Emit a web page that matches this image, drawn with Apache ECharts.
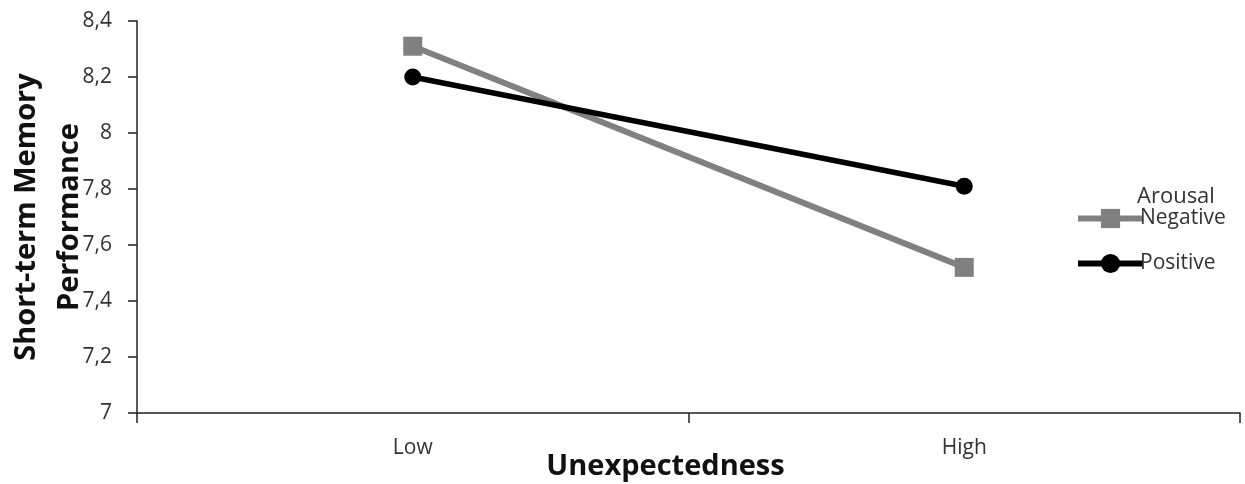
<!DOCTYPE html>
<html>
<head>
<meta charset="utf-8">
<script src="https://cdn.jsdelivr.net/npm/echarts@6/dist/echarts.min.js"></script>
<style>
html,body{margin:0;padding:0;background:#fff;}
#chart{width:1245px;height:484px;}
</style>
</head>
<body>
<div id="chart"></div>
<script>
const categories = ['Low', 'High'];
const negativeValues = [8.31, 7.52];
const positiveValues = [8.20, 7.81];
const seriesNames = ['Negative', 'Positive'];
const legendTitle = 'Arousal';
const xAxisTitle = 'Unexpectedness';
const yAxisTitle = 'Short-term Memory\nPerformance';

const chart = echarts.init(document.getElementById('chart'), null, {renderer: 'canvas'});
const font = '"Open Sans", sans-serif';
chart.setOption({
  animation: false,
  backgroundColor: '#fff',
  grid: {left: 137, right: 5, top: 21, bottom: 71, containLabel: false, outerBoundsMode: 'none'},
  xAxis: {
    type: 'category',
    data: categories,
    boundaryGap: true,
    axisLine: {lineStyle: {color: '#222', width: 1.5}},
    axisTick: {show: true, length: 10, lineStyle: {color: '#222', width: 1.5}},
    axisLabel: {color: '#333', fontSize: 21, fontFamily: font, margin: 25},
    name: xAxisTitle,
    nameLocation: 'middle',
    nameMoveOverlap: false,
    nameGap: 39,
    nameTextStyle: {fontSize: 29, fontWeight: 'bold', fontFamily: font, color: '#111', padding: [0, 46, 0, 0]},
    splitLine: {show: false}
  },
  yAxis: {
    type: 'value',
    min: 7, max: 8.4, interval: 0.2,
    axisLine: {show: true, lineStyle: {color: '#222', width: 1.5}},
    axisTick: {show: true, length: 9, lineStyle: {color: '#222', width: 1.5}},
    axisLabel: {
      color: '#333', fontSize: 21, fontFamily: font, margin: 25,
      formatter: v => String(Math.round(v * 10) / 10).replace('.', ',')
    },
    splitLine: {show: false},
    name: yAxisTitle,
    nameLocation: 'middle',
    nameMoveOverlap: false,
    nameGap: 46,
    nameRotate: 90,
    nameTextStyle: {fontSize: 29, fontWeight: 'bold', fontFamily: font, color: '#111', lineHeight: 43}
  },
  legend: {
    orient: 'vertical',
    left: 1075,
    top: 208,
    padding: 0,
    itemWidth: 65,
    itemHeight: 24,
    itemGap: 24,
    lineStyle: {width: 6},
    textStyle: {fontSize: 21, fontFamily: font, color: '#333', padding: [0,0,0,-8]},
    data: seriesNames
  },
  graphic: [{
    type: 'text', left: 1137, top: 186,
    style: {text: legendTitle, fontSize: 22, fontFamily: font, fill: '#333'}
  }],
  series: [
    {
      name: seriesNames[0], type: 'line', data: negativeValues,
      symbol: 'rect', symbolSize: 19,
      lineStyle: {color: '#808080', width: 6},
      itemStyle: {color: '#808080'}
    },
    {
      name: seriesNames[1], type: 'line', data: positiveValues,
      symbol: 'circle', symbolSize: 17,
      lineStyle: {color: '#000', width: 5.5},
      itemStyle: {color: '#000'}
    }
  ]
});
</script>
</body>
</html>
